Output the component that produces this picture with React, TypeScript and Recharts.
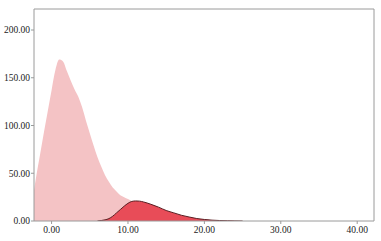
import { AreaChart, Area, XAxis, YAxis, ReferenceLine } from "recharts";

const xs = [
  -2.3, -2, -1.5, -1, -0.5, 0, 0.5, 1, 1.5, 2, 2.5, 3, 3.5, 4, 4.5, 5, 5.5, 6,
  6.5, 7, 7.5, 8, 8.5, 9, 9.5, 10, 10.5, 11, 11.5, 12, 13, 14, 15, 16, 17, 18,
  19, 20, 21, 22, 23, 24, 25, 26, 28, 30, 35, 42.2,
];

const lightValues = [
  32, 47, 70, 93, 115, 137, 158, 169, 167, 157, 147, 138, 130, 119, 105, 92,
  79, 67, 57, 48, 41, 35, 31, 27, 25, 23, 21, 19.5, 18, 16.5, 13.5, 11, 8.5,
  6.5, 4.8, 3.4, 2.3, 1.5, 0.9, 0.5, 0.25, 0.1, 0, 0, 0, 0, 0, 0,
];

const darkValues = [
  null, null, null, null, null, null, null, null, null, null, null, null, null,
  null, null, null, null, 0, 0.5, 1.2, 2.5, 5, 8.5, 12, 15.5, 18.5, 20.5, 21,
  20.8, 20, 17.5, 14.5, 11, 8.5, 6, 4.2, 2.6, 1.6, 0.9, 0.5, 0.25, 0.1, 0,
  null, null, null, null, null,
];

const xTicks = [0, 10, 20, 30, 40];
const yTicks = [0, 50, 100, 150, 200];

const data = xs.map((x, i) => ({ x, light: lightValues[i], dark: darkValues[i] }));

const tickStyle = { fontFamily: "Liberation Serif", fontSize: 9.5, fill: "#222" };
const axisColor = "#9a9a9a";

export default function App() {
  return (
    <div style={{ position: "fixed", left: 0, top: 0, background: "#fff" }}>
      <AreaChart
        width={381}
        height={241}
        data={data}
        margin={{ top: 9, right: 7, bottom: 0, left: 0 }}
      >
        <XAxis
          dataKey="x"
          type="number"
          domain={[-2.3, 42.2]}
          ticks={xTicks}
          allowDataOverflow
          tickFormatter={(v: number) => v.toFixed(2)}
          tick={tickStyle}
          tickSize={3}
          tickMargin={2}
          height={20}
          stroke={axisColor}
        />
        <YAxis
          type="number"
          domain={[0, 222]}
          ticks={yTicks}
          allowDataOverflow
          tickFormatter={(v: number) => v.toFixed(2)}
          tick={tickStyle}
          tickSize={3}
          tickMargin={1}
          width={34}
          stroke={axisColor}
        />
        <Area
          dataKey="light"
          type="monotone"
          fill="#f4c3c5"
          fillOpacity={1}
          stroke="none"
          isAnimationActive={false}
        />
        <Area
          dataKey="dark"
          type="monotone"
          fill="#e84c58"
          fillOpacity={1}
          stroke="#5a1e22"
          strokeWidth={1}
          isAnimationActive={false}
        />
        <ReferenceLine y={222} stroke={axisColor} />
        <ReferenceLine x={42.2} stroke={axisColor} />
      </AreaChart>
    </div>
  );
}
